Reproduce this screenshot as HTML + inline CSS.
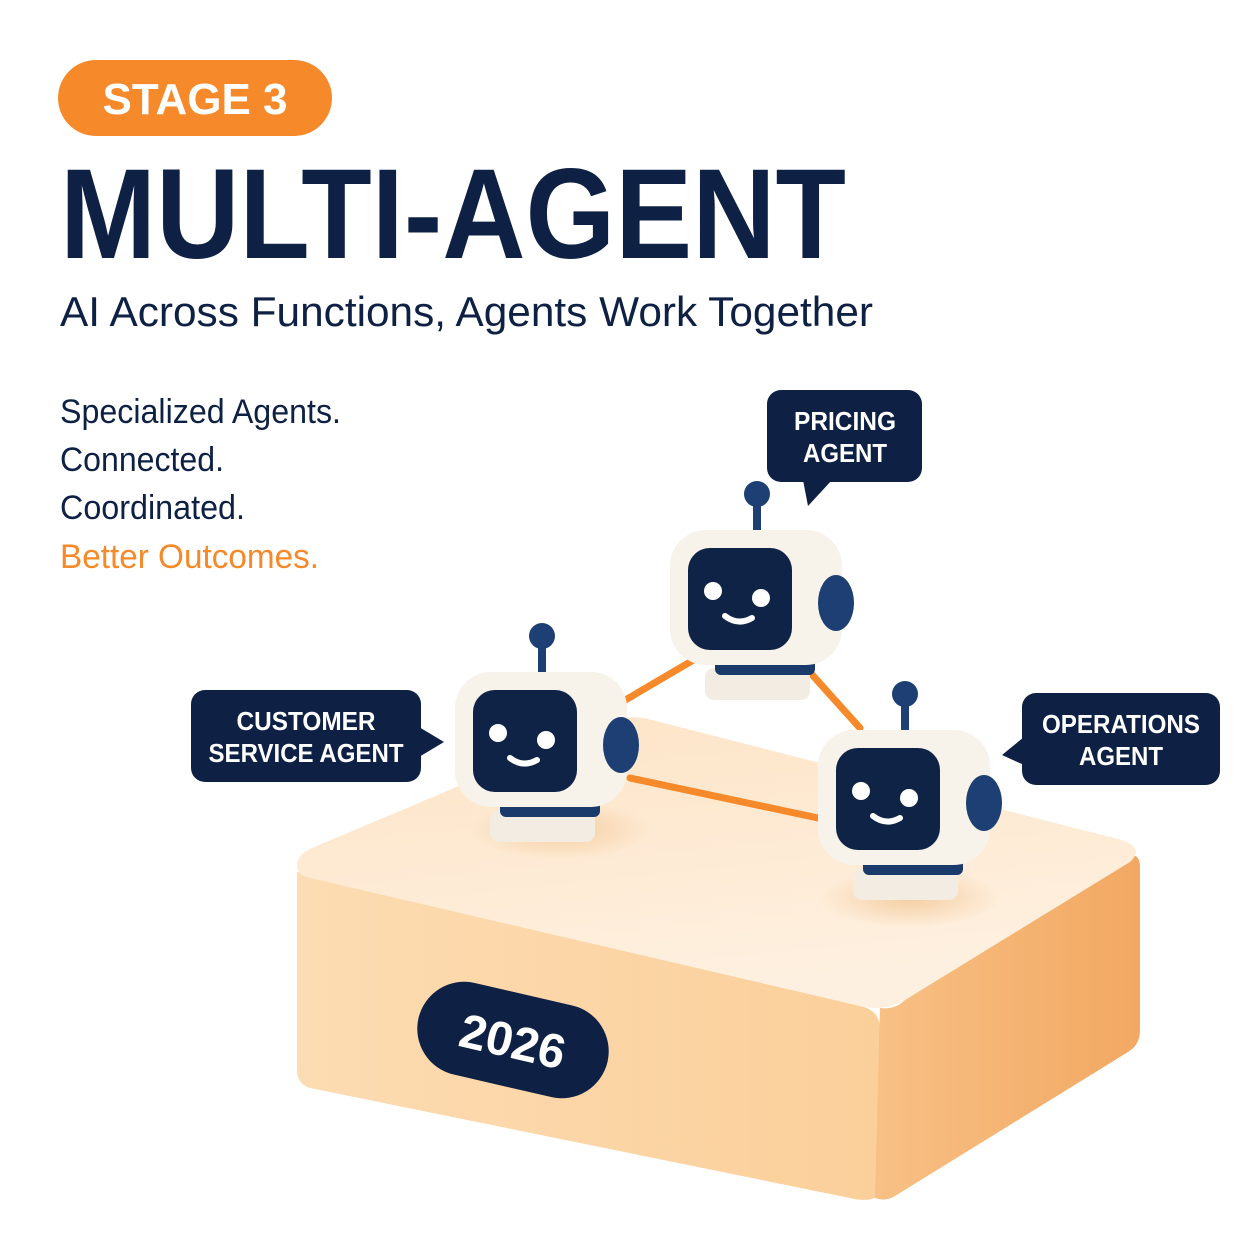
<!DOCTYPE html>
<html><head><meta charset="utf-8"><style>
html,body{margin:0;padding:0;background:#fff}
svg{display:block}
</style></head><body>
<svg width="1254" height="1254" viewBox="0 0 1254 1254" xmlns="http://www.w3.org/2000/svg">
<defs>
<linearGradient id="left" x1="0" y1="0" x2="1" y2="0">
<stop offset="0" stop-color="#fcdcb2"/><stop offset="1" stop-color="#fbcf9a"/>
</linearGradient>
<linearGradient id="right" x1="0" y1="0" x2="1" y2="0">
<stop offset="0" stop-color="#f8c085"/><stop offset="1" stop-color="#f2a862"/>
</linearGradient>
<linearGradient id="top" x1="0" y1="0" x2="0.3" y2="1">
<stop offset="0" stop-color="#fde4c6"/><stop offset="1" stop-color="#fef0e0"/>
</linearGradient>
<radialGradient id="shadow" cx="0.5" cy="0.5" r="0.5">
<stop offset="0" stop-color="#f0c08a" stop-opacity="0.7"/><stop offset="1" stop-color="#f0c08a" stop-opacity="0"/>
</radialGradient>
<g id="robot">
<line x1="757" y1="500" x2="757" y2="535" stroke="#1d3f73" stroke-width="8"/>
<circle cx="757" cy="494" r="13" fill="#1d3f73"/>
<rect x="705" y="668" width="105" height="32" rx="9" fill="#f3ece2"/>
<rect x="715" y="655" width="100" height="20" rx="6" fill="#1a3a6c"/>
<rect x="670" y="530" width="172" height="135" rx="36" fill="#f7f2ea"/>
<rect x="688" y="548" width="104" height="102" rx="22" fill="#0f2347"/>
<ellipse cx="836" cy="603" rx="18" ry="28" fill="#1d3f73"/>
<circle cx="713" cy="591" r="9" fill="#fff"/>
<circle cx="761" cy="598" r="9" fill="#fff"/>
<path d="M725 616 Q738 626 752 618" stroke="#fff" stroke-width="6" fill="none" stroke-linecap="round"/>
</g>
</defs>

<!-- header -->
<rect x="58" y="60" width="274" height="76" rx="38" fill="#f6892a"/>
<text x="195" y="114" text-anchor="middle" font-family="Liberation Sans, sans-serif" font-weight="bold" font-size="44" fill="#fff" textLength="185" lengthAdjust="spacingAndGlyphs">STAGE 3</text>
<text x="60" y="258" font-family="Liberation Sans, sans-serif" font-weight="bold" font-size="128" fill="#0e2145" textLength="786" lengthAdjust="spacingAndGlyphs">MULTI-AGENT</text>
<text x="60" y="326" font-family="Liberation Sans, sans-serif" font-size="42" fill="#0e2145" textLength="813" lengthAdjust="spacingAndGlyphs">AI Across Functions, Agents Work Together</text>
<g font-family="Liberation Sans, sans-serif" font-size="34" fill="#0e2145">
<text x="60" y="423" textLength="281" lengthAdjust="spacingAndGlyphs">Specialized Agents.</text>
<text x="60" y="471" textLength="164" lengthAdjust="spacingAndGlyphs">Connected.</text>
<text x="60" y="519" textLength="185" lengthAdjust="spacingAndGlyphs">Coordinated.</text>
<text x="60" y="568" fill="#f6892a" textLength="259" lengthAdjust="spacingAndGlyphs">Better Outcomes.</text>
</g>

<!-- platform -->
<path d="M297 872 L860 1006 Q880 1010 880 1030 L880 1195 Q870 1203 850 1198 L310 1088 Q297 1084 297 1070 Z" fill="url(#left)"/>
<path d="M880 1008 Q895 1010 905 1000 L1125 858 Q1140 850 1140 868 L1140 1030 Q1140 1045 1128 1052 L895 1196 Q885 1202 875 1198 Z" fill="url(#right)"/>
<path d="M297 866 Q297 855 312 848 L610 722 Q628 714 648 719 L1122 840 Q1145 848 1130 862 L905 1000 Q885 1012 860 1006 L310 878 Q297 875 297 866 Z" fill="url(#top)"/>
<ellipse cx="560" cy="830" rx="90" ry="30" fill="url(#shadow)"/>
<ellipse cx="910" cy="898" rx="90" ry="30" fill="url(#shadow)"/>

<!-- 2026 pill -->
<g transform="rotate(13 513 1040)">
<rect x="416" y="993" width="194" height="94" rx="47" fill="#0e2145"/>
<text x="513" y="1058" text-anchor="middle" font-family="Liberation Sans, sans-serif" font-weight="bold" font-size="48" fill="#fff">2026</text>
</g>

<!-- connectors -->
<g stroke="#f6892a" stroke-width="7" stroke-linecap="round">
<line x1="702" y1="655" x2="622" y2="702"/>
<line x1="806" y1="668" x2="860" y2="728"/>
<line x1="630" y1="778" x2="818" y2="818"/>
</g>

<!-- robots -->
<use href="#robot"/>
<use href="#robot" transform="translate(-215 142)"/>
<use href="#robot" transform="translate(148 200)"/>

<!-- bubbles -->
<g font-family="Liberation Sans, sans-serif" font-weight="bold" font-size="26" fill="#fff" text-anchor="middle">
<rect x="767" y="390" width="155" height="92" rx="14" fill="#0e2145"/>
<path d="M803 480 L808 506 L832 480 Z" fill="#0e2145"/>
<text x="845" y="430" textLength="102" lengthAdjust="spacingAndGlyphs">PRICING</text>
<text x="845" y="462" textLength="84" lengthAdjust="spacingAndGlyphs">AGENT</text>

<rect x="191" y="690" width="230" height="92" rx="14" fill="#0e2145"/>
<path d="M419 727 L444 742 L419 757 Z" fill="#0e2145"/>
<text x="306" y="730" textLength="139" lengthAdjust="spacingAndGlyphs">CUSTOMER</text>
<text x="306" y="762" textLength="195" lengthAdjust="spacingAndGlyphs">SERVICE AGENT</text>

<rect x="1022" y="693" width="198" height="92" rx="14" fill="#0e2145"/>
<path d="M1024 737 L1002 755 L1024 765 Z" fill="#0e2145"/>
<text x="1121" y="733" textLength="158" lengthAdjust="spacingAndGlyphs">OPERATIONS</text>
<text x="1121" y="765" textLength="84" lengthAdjust="spacingAndGlyphs">AGENT</text>
</g>
</svg>
</body></html>
